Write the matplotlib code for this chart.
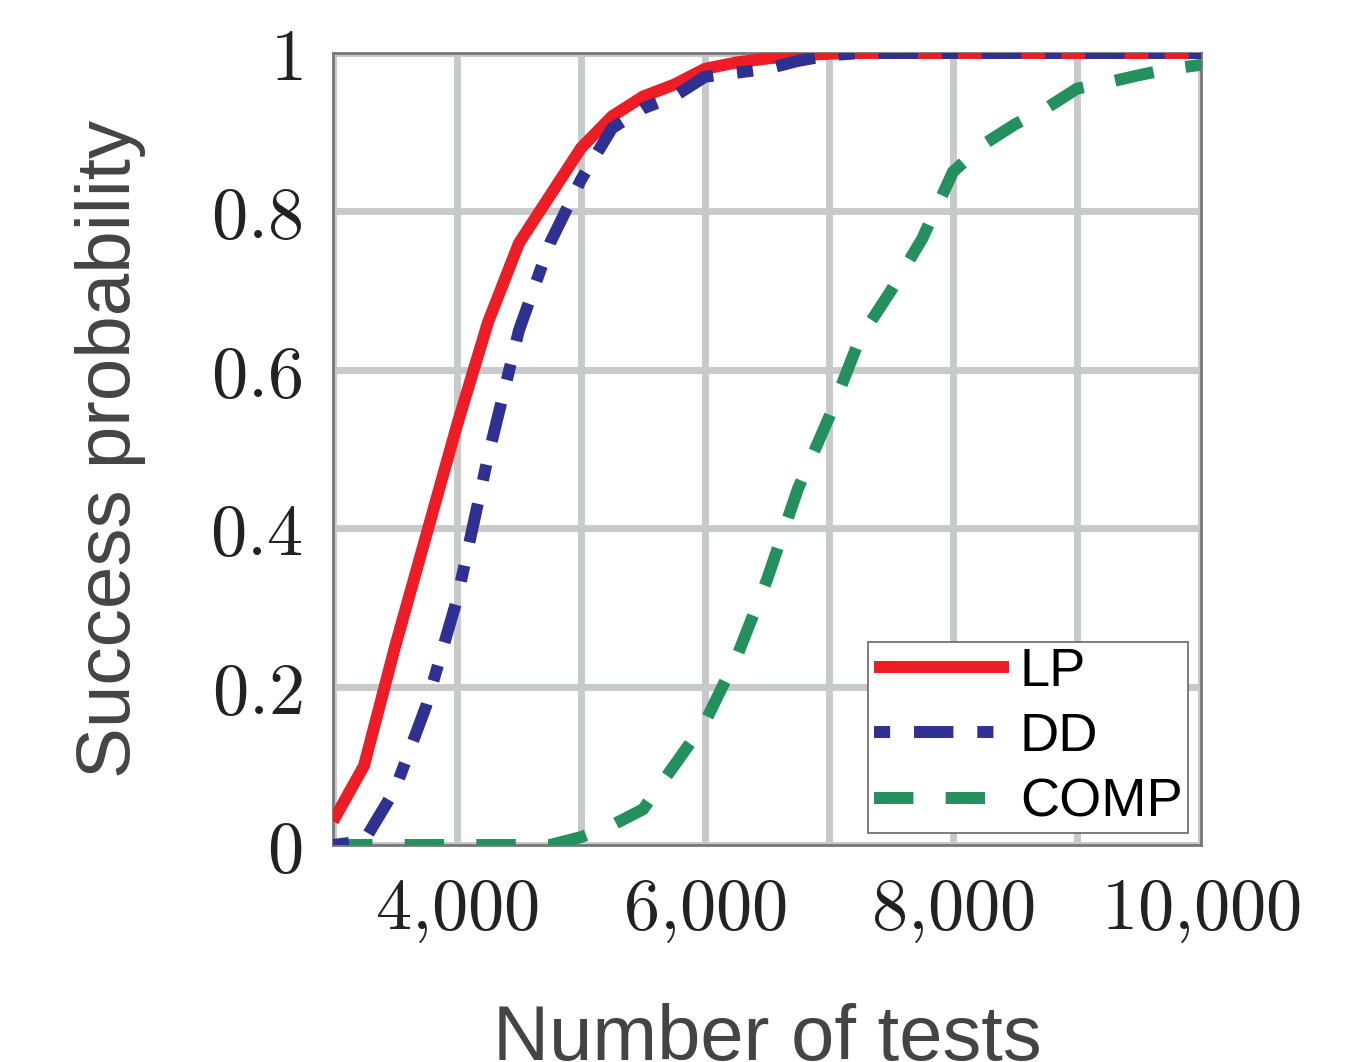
import matplotlib
matplotlib.use("Agg")
import matplotlib.pyplot as plt
from matplotlib.ticker import FixedLocator, FuncFormatter

# ---- data ----
tests = [3000, 3250, 3500, 3750, 4000, 4250, 4500, 4750, 5000, 5250, 5500, 5750,
         6000, 6250, 6500, 6750, 7000, 7250, 7500, 7750, 8000, 8250, 8500, 8750,
         9000, 9250, 9500, 9750, 10000]
lp = [0.03, 0.10, 0.25, 0.39, 0.53, 0.66, 0.76, 0.82, 0.88, 0.92, 0.945, 0.96,
      0.98, 0.988, 0.993, 0.997, 0.999, 1.0, 1.0, 1.0, 1.0, 1.0, 1.0, 1.0,
      1.0, 1.0, 1.0, 1.0, 1.0]
dd = [0.0, 0.005, 0.07, 0.175, 0.31, 0.49, 0.65, 0.76, 0.84, 0.905, 0.93, 0.945,
      0.97, 0.975, 0.98, 0.99, 0.997, 1.0, 1.0, 1.0, 1.0, 1.0, 1.0, 1.0,
      1.0, 1.0, 1.0, 1.0, 1.0]
comp = [0.0, 0.0, 0.0, 0.0, 0.0, 0.0, 0.0, 0.0, 0.01, 0.025, 0.045, 0.10,
        0.155, 0.235, 0.335, 0.45, 0.54, 0.64, 0.70, 0.765, 0.85, 0.885, 0.91, 0.93,
        0.955, 0.963, 0.972, 0.98, 0.985]
series_labels = ["LP", "DD", "COMP"]
xticks = [4000, 6000, 8000, 10000]
xgrid = [3000, 4000, 5000, 6000, 7000, 8000, 9000, 10000]
yticks = [0, 0.2, 0.4, 0.6, 0.8, 1]

plt.rcParams['mathtext.fontset'] = 'cm'

W, H = 1365, 1062
fig = plt.figure(figsize=(W / 100, H / 100), dpi=100)
ax = fig.add_axes([333 / W, 1 - 845 / H, (1201 - 333) / W, (845 - 53) / H])

lw = 8.6
ax.plot(tests, lp, color='#ee1c25', lw=lw, solid_capstyle='butt', solid_joinstyle='miter',
        label=series_labels[0], zorder=5)
ax.plot(tests, dd, color='#2e3192', lw=lw, dash_capstyle='butt', dash_joinstyle='miter',
        dashes=(1.35, 2.0, 3.3, 2.0), label=series_labels[1], zorder=6)
ax.plot(tests, comp, color='#23905e', lw=lw, dash_capstyle='butt', dash_joinstyle='miter',
        dashes=(3.3, 2.7), label=series_labels[2], zorder=4)

ax.set_xlim(3000, 10000)
ax.set_ylim(0, 1)
ax.xaxis.set_major_locator(FixedLocator(xticks))
ax.yaxis.set_major_locator(FixedLocator(yticks))


def xfmt(v, pos):
    s = f"{int(v):,}".replace(",", "{,}")
    return f"${s}$"


def yfmt(v, pos):
    if v == 0:
        return "$0$"
    if v == 1:
        return "$1$"
    return f"${v:.1f}$"


ax.xaxis.set_major_formatter(FuncFormatter(xfmt))
ax.yaxis.set_major_formatter(FuncFormatter(yfmt))
ax.tick_params(axis='both', which='both', length=0, labelsize=52, colors='#222222')
ax.tick_params(axis='x', pad=22)
ax.tick_params(axis='y', pad=22)

for gx in xgrid:
    ax.axvline(gx, color='#c8c9cb', lw=5, zorder=0)
ax.grid(True, which='major', axis='y', color='#c8c9cb', lw=5, zorder=0)
ax.set_axisbelow(True)
for s in ax.spines.values():
    s.set_color('#777777')
    s.set_linewidth(2)

ax.set_ylabel("Success probability", fontsize=55, family='Liberation Sans',
              color='#444444', labelpad=46)
ax.set_xlabel("Number of tests", fontsize=56, family='Liberation Sans',
              color='#444444', labelpad=42)

leg = ax.legend(loc='lower right', bbox_to_anchor=(1188 / W, 1 - 833 / H),
                bbox_transform=fig.transFigure, borderaxespad=0, fancybox=False,
                framealpha=1, edgecolor='#666666', prop={'family': 'Liberation Sans', 'size': 39},
                handlelength=2.5, handletextpad=0.2, labelspacing=0.28, borderpad=0.1)
leg.get_frame().set_linewidth(1.2)
leg.set_zorder(10)

fig.savefig("out.png", dpi=100)
